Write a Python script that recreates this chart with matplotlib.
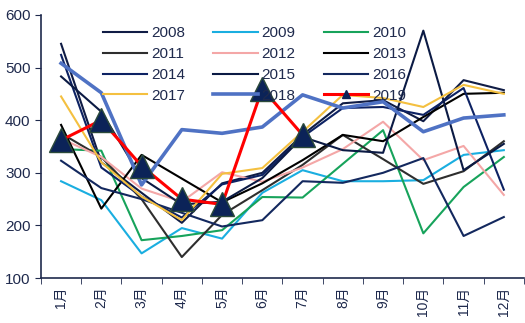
import matplotlib
matplotlib.use("Agg")
import matplotlib.pyplot as plt
from matplotlib.lines import Line2D

plt.rcParams['font.family'] = ['Liberation Sans', 'Noto Sans CJK SC', 'DejaVu Sans']

months = ['1月', '2月', '3月', '4月', '5月', '6月', '7月', '8月', '9月', '10月', '11月', '12月']

y2008 = [545, 320, 262, 205, 280, 300, 372, 432, 438, 398, 476, 457]
y2009 = [284, 248, 147, 195, 175, 262, 305, 284, 284, 286, 334, 343]
y2010 = [345, 342, 172, 180, 191, 254, 253, 317, 381, 185, 273, 330]
y2011 = [375, 330, 250, 140, 220, 267, 315, 372, 326, 279, 303, 360]
y2012 = [365, 330, 270, 245, 301, 283, 310, 345, 397, 324, 351, 258]
y2013 = [391, 232, 334, 289, 244, 280, 324, 372, 360, 406, 450, 452]
y2014 = [524, 310, 255, 215, 278, 296, 368, 423, 425, 410, 461, 268]
y2015 = [483, 416, 290, 240, 245, 290, 368, 343, 338, 570, 305, 355]
y2016 = [323, 271, 250, 224, 198, 210, 284, 281, 300, 328, 180, 216]
y2017 = [445, 320, 255, 210, 298, 309, 378, 448, 442, 425, 467, 450]
y2018 = [508, 452, 277, 382, 375, 387, 448, 423, 435, 378, 404, 410]
y2019 = [362, 400, 313, 250, 240, 460, 372]

series = [
    ('2008', y2008, '#101c45', 1.5),
    ('2009', y2009, '#1aaee0', 1.5),
    ('2010', y2010, '#17a35b', 1.5),
    ('2011', y2011, '#2e2e2e', 1.5),
    ('2012', y2012, '#f4a7a7', 1.5),
    ('2013', y2013, '#000000', 1.5),
    ('2014', y2014, '#0d2263', 1.5),
    ('2015', y2015, '#0b1a44', 1.5),
    ('2016', y2016, '#13285e', 1.5),
    ('2017', y2017, '#f4c040', 1.5),
    ('2018', y2018, '#4f72c4', 2.6),
]

fig = plt.figure(figsize=(5.25, 3.23), dpi=100)
ax = fig.add_axes([0.078, 0.139, 0.92, 0.815])

x = list(range(12))
handles = []
for name, ys, c, lw in series:
    h, = ax.plot(x[:len(ys)], ys, color=c, lw=lw, label=name)
    handles.append(h)

ax.plot(x[:len(y2019)], y2019, color='#ff0000', lw=2.2, zorder=5)
ax.plot(x[:len(y2019)], y2019, ls='none', marker='^', ms=17,
        markerfacecolor='#0b2358', markeredgecolor='#2b4a3a', markeredgewidth=1, zorder=6)
h19 = Line2D([], [], color='#ff0000', lw=2.2, marker='^', ms=6,
             markerfacecolor='#0b2358', markeredgecolor='#0b2358')
handles.append(h19)
labels = [s[0] for s in series] + ['2019']

# reorder so legend reads row-wise with 3 columns
order = []
for col in range(3):
    for row in range(4):
        order.append(row * 3 + col)
leg = fig.legend([handles[i] for i in order], [labels[i] for i in order], ncol=3,
                 loc='upper left', bbox_to_anchor=(0.196, 0.918), frameon=False,
                 fontsize=11, handlelength=2.9, columnspacing=1.85, labelspacing=0.44,
                 handletextpad=0.25, borderpad=0, borderaxespad=0, labelcolor='#1f2a4d')

ax.set_xlim(-0.5, 11.5)
ax.set_ylim(100, 600)
ax.set_yticks([100, 200, 300, 400, 500, 600])
ax.set_xticks(x)
ax.set_xticklabels(months, rotation=90, fontsize=10, color='#1f2a4d')
ax.set_xticks([i - 0.5 for i in range(13)], minor=True)
ax.tick_params(axis='x', which='major', length=0, pad=6)
ax.tick_params(axis='x', which='minor', length=4, color='#1f2a4d', direction='out')
ax.tick_params(axis='y', length=4, color='#1f2a4d', labelsize=11, labelcolor='#1f2a4d')
for s in ['top', 'right']:
    ax.spines[s].set_visible(False)
for s in ['left', 'bottom']:
    ax.spines[s].set_color('#1f2a4d')
    ax.spines[s].set_linewidth(1.2)

fig.savefig('out.png', dpi=100)
